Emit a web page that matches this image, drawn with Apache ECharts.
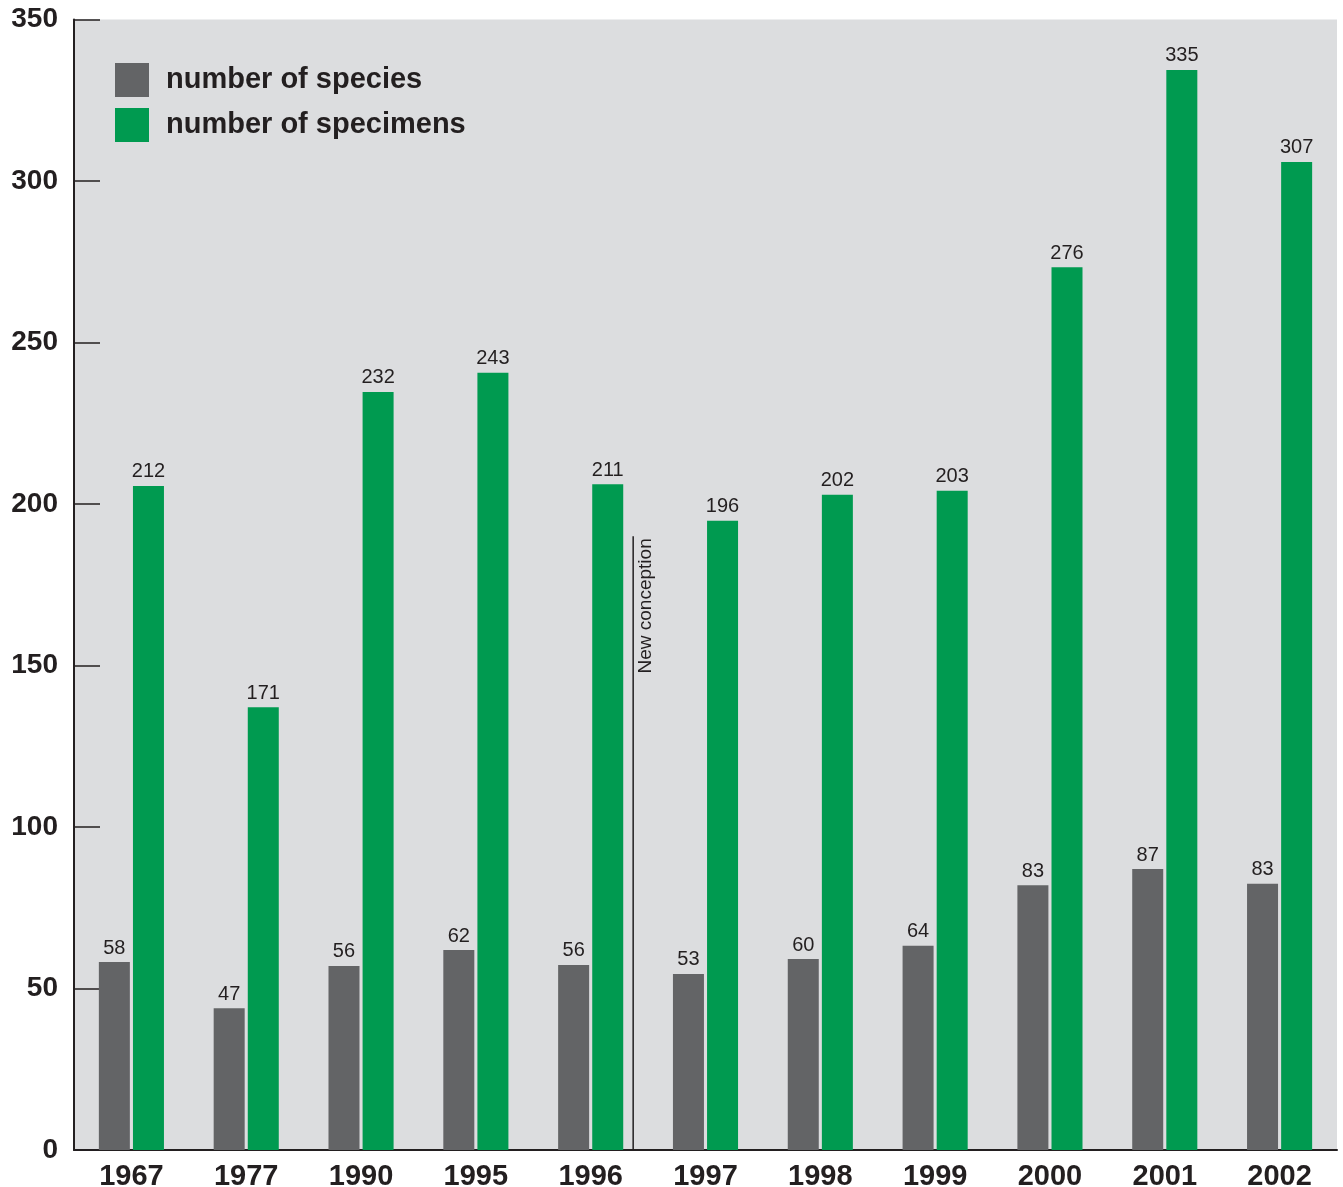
<!DOCTYPE html>
<html>
<head>
<meta charset="utf-8">
<script src="https://cdn.jsdelivr.net/npm/echarts@6/dist/echarts.min.js"></script>
<style>
html,body{margin:0;padding:0;background:#fff;}
#chart{width:1343px;height:1187px;}
</style>
</head>
<body>
<div id="chart"></div>
<script>
// Categories (years)
const years = ['1967','1977','1990','1995','1996','1997','1998','1999','2000','2001','2002'];
// Bar heights as drawn in the reference
const speciesBars = [58.2, 43.9, 57.0, 61.9, 57.3, 54.5, 59.1, 63.2, 82.0, 87.0, 82.4];
const specimenBars = [205.6, 137.1, 234.7, 240.6, 206.1, 194.8, 202.9, 204.1, 273.3, 334.4, 305.9];
// Printed value labels
const speciesLabels = [58, 47, 56, 62, 56, 53, 60, 64, 83, 87, 83];
const specimenLabels = [212, 171, 232, 243, 211, 196, 202, 203, 276, 335, 307];
// Y axis ticks
const yMin = 0, yMax = 350, yStep = 50;
// Annotation: "New conception" divider (category position, top value)
const dividerPos = 4.37;
const dividerTop = 190;
const dividerText = 'New conception';

const FONT = '"Liberation Sans", Arial, Helvetica, sans-serif';
const TXT = '#231f20';
const GRAY = '#636466';
const GREEN = '#009a50';

const chart = echarts.init(document.getElementById('chart'));
chart.setOption({
  animation: false,
  backgroundColor: '#ffffff',
  textStyle: { fontFamily: FONT },
  grid: {
    left: 74, right: 6, top: 19.5, bottom: 37,
    containLabel: false, outerBoundsMode: 'none',
    show: true, backgroundColor: '#dcdddf', borderWidth: 0
  },
  legend: {
    data: ['number of species', 'number of specimens'],
    orient: 'vertical',
    left: 115, top: 63, padding: 0,
    itemWidth: 34, itemHeight: 34, itemGap: 11,
    icon: 'rect',
    textStyle: { fontFamily: FONT, fontSize: 29, fontWeight: 'bold', color: TXT, padding: [0, 0, 0, 12] }
  },
  xAxis: {
    type: 'category',
    data: years,
    axisLine: { lineStyle: { color: TXT, width: 2 } },
    axisTick: { inside: true, length: 16, lineStyle: { color: TXT, width: 1.5 } },
    axisLabel: { fontFamily: FONT, fontSize: 29, fontWeight: 'bold', color: TXT, margin: 12 },
    splitLine: { show: false }
  },
  yAxis: {
    type: 'value',
    min: yMin, max: yMax, interval: yStep,
    axisLine: { show: true, lineStyle: { color: TXT, width: 2 } },
    axisTick: { show: true, inside: true, length: 26, lineStyle: { color: TXT, width: 1.5 } },
    axisLabel: { fontFamily: FONT, fontSize: 28, fontWeight: 'bold', color: TXT, margin: 16 },
    splitLine: { show: false }
  },
  series: [
    {
      name: 'number of species',
      type: 'bar',
      data: speciesBars,
      barWidth: 31,
      barGap: '10%',
      itemStyle: { color: GRAY },
      label: {
        show: true, position: 'top', distance: 4,
        fontFamily: FONT, fontSize: 20, color: TXT,
        formatter: p => String(speciesLabels[p.dataIndex])
      }
    },
    {
      name: 'number of specimens',
      type: 'bar',
      data: specimenBars,
      barWidth: 31,
      barGap: '10%',
      itemStyle: { color: GREEN },
      label: {
        show: true, position: 'top', distance: 4,
        fontFamily: FONT, fontSize: 20, color: TXT,
        formatter: p => String(specimenLabels[p.dataIndex])
      }
    },
    {
      name: 'divider',
      type: 'custom',
      data: [[dividerPos, dividerTop]],
      z: 5,
      renderItem: function (params, api) {
        const pos = api.value(0);
        const top = api.value(1);
        const base = Math.floor(pos);
        const c0 = api.coord([base, 0]);
        const w = api.size([1, 0])[0];
        const x = c0[0] + (pos - base) * w;
        const yTop = api.coord([base, top])[1];
        return {
          type: 'group',
          children: [
            { type: 'line', shape: { x1: x, y1: yTop, x2: x, y2: c0[1] }, style: { stroke: TXT, lineWidth: 1.5 } },
            { type: 'text', x: x + 3, y: yTop + 2, rotation: Math.PI / 2,
              style: { text: dividerText, align: 'right', verticalAlign: 'top', fontSize: 19, fontFamily: FONT, fill: TXT } }
          ]
        };
      }
    }
  ]
});
</script>
</body>
</html>
